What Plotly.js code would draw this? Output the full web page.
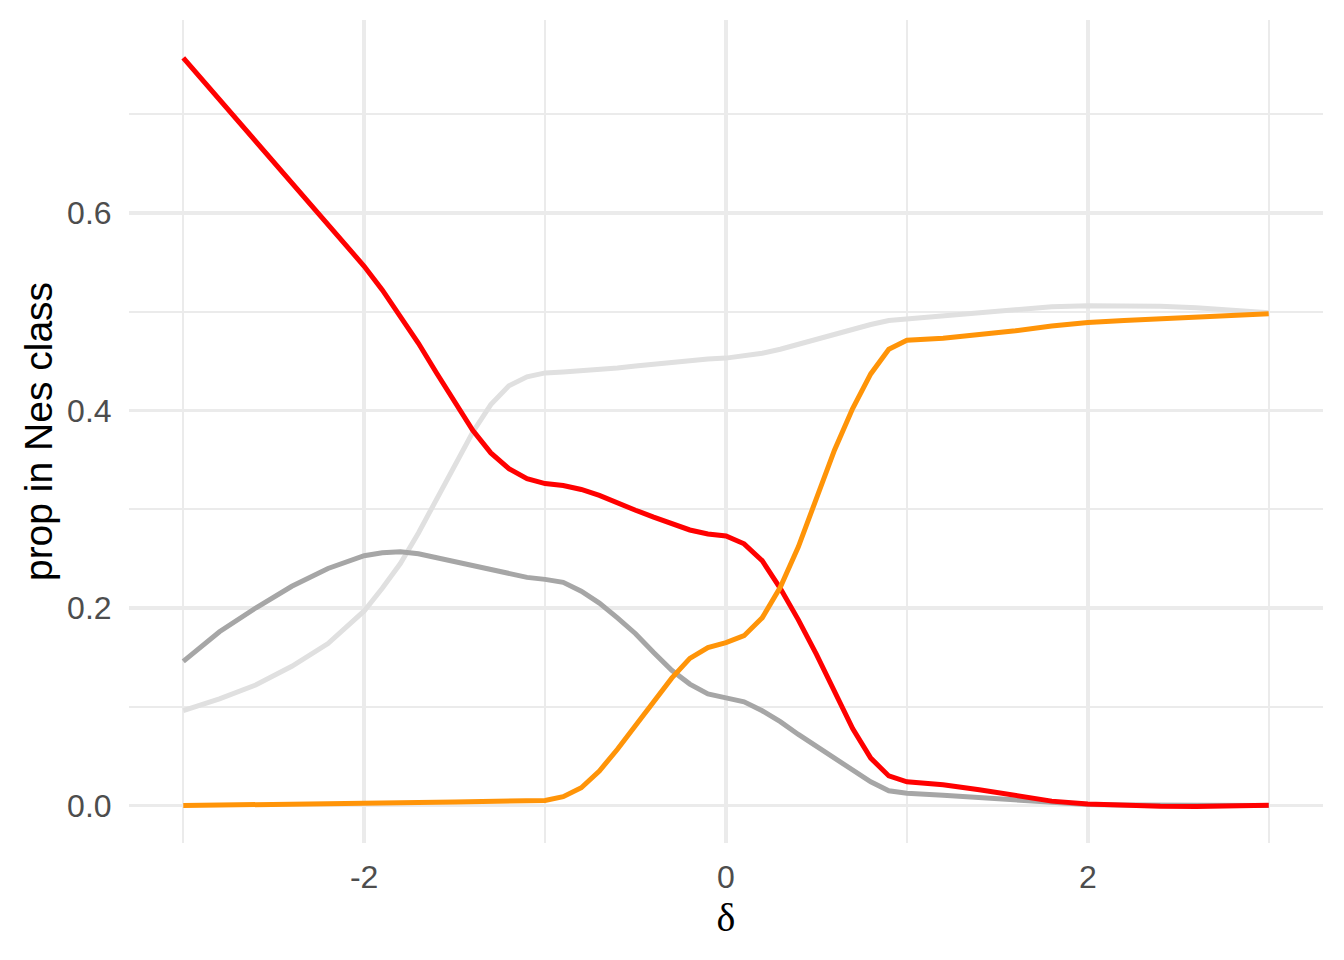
<!DOCTYPE html>
<html>
<head>
<meta charset="utf-8">
<script src="https://cdn.plot.ly/plotly-3.0.1.min.js"></script>
<style>html,body{margin:0;padding:0;background:#fff;}#chart{width:1344px;height:960px;}</style>
</head>
<body>
<div id="chart"></div>
<script>
const delta = [-3, -2.8, -2.6, -2.4, -2.2, -2, -1.9, -1.8, -1.7, -1.6, -1.5, -1.4, -1.3, -1.2, -1.1, -1, -0.9, -0.8, -0.7, -0.6, -0.5, -0.4, -0.3, -0.2, -0.1, 0, 0.1, 0.2, 0.3, 0.4, 0.5, 0.6, 0.7, 0.8, 0.9, 1, 1.2, 1.4, 1.6, 1.8, 2, 2.2, 2.4, 2.6, 2.8, 3];

const propRed = [0.757, 0.715, 0.673, 0.631, 0.589, 0.546, 0.522, 0.496, 0.468, 0.438, 0.408, 0.380, 0.357, 0.341, 0.331, 0.326, 0.324, 0.320, 0.314, 0.306, 0.299, 0.292, 0.285, 0.279, 0.275, 0.273, 0.265, 0.248, 0.220, 0.188, 0.153, 0.115, 0.078, 0.048, 0.030, 0.024, 0.021, 0.016, 0.010, 0.0045, 0.0015, 0.0, -0.0008, -0.001, -0.0006, 0.0003];

const propDarkGray = [0.146, 0.176, 0.200, 0.222, 0.240, 0.253, 0.256, 0.257, 0.255, 0.251, 0.247, 0.242, 0.238, 0.234, 0.231, 0.229, 0.226, 0.217, 0.205, 0.190, 0.174, 0.155, 0.137, 0.123, 0.113, 0.109, 0.105, 0.096, 0.085, 0.072, 0.060, 0.047, 0.035, 0.024, 0.015, 0.0125, 0.0105, 0.008, 0.005, 0.0025, 0.001, 0.0005, 0.0002, 0.0001, 0.0001, 0.0];

const propLightGray = [0.096, 0.108, 0.122, 0.141, 0.164, 0.197, 0.220, 0.245, 0.276, 0.310, 0.345, 0.378, 0.406, 0.425, 0.434, 0.438, 0.439, 0.440, 0.441, 0.443, 0.445, 0.447, 0.449, 0.451, 0.452, 0.453, 0.455, 0.458, 0.462, 0.467, 0.472, 0.478, 0.483, 0.487, 0.491, 0.4925, 0.495, 0.498, 0.502, 0.505, 0.506, 0.506, 0.5055, 0.504, 0.502, 0.499];

const propOrange = [0.0, 0.0003, 0.0006, 0.001, 0.0015, 0.002, 0.0023, 0.0026, 0.003, 0.0033, 0.0037, 0.004, 0.0043, 0.0046, 0.0049, 0.0052, 0.009, 0.018, 0.035, 0.057, 0.081, 0.105, 0.129, 0.149, 0.160, 0.165, 0.172, 0.190, 0.221, 0.262, 0.311, 0.360, 0.402, 0.437, 0.462, 0.471, 0.473, 0.4765, 0.4807, 0.4855, 0.489, 0.491, 0.493, 0.495, 0.4965, 0.498];

const xTicks = [-2, 0, 2];
const xTickText = ['-2', '0', '2'];
const xMinor = [-3, -1, 1, 3];
const yTicks = [0, 0.2, 0.4, 0.6];
const yTickText = ['0.0', '0.2', '0.4', '0.6'];
const yMinor = [0.1, 0.3, 0.5, 0.7];

const series = [
  {y: propLightGray, color: '#E0E0E0'},
  {y: propDarkGray, color: '#A6A6A6'},
  {y: propRed, color: '#FF0000'},
  {y: propOrange, color: '#FF9408'}
];

const traces = series.map(s => ({
  x: delta, y: s.y, type: 'scatter', mode: 'lines',
  line: {color: s.color, width: 5}, hoverinfo: 'skip'
}));

const tickFont = {family: 'Liberation Sans, Arial, sans-serif', size: 32, color: '#4D4D4D'};

const layout = {
  width: 1344, height: 960,
  paper_bgcolor: '#FFFFFF', plot_bgcolor: '#FFFFFF',
  showlegend: false,
  margin: {l: 129, r: 21, t: 20, b: 117, pad: 0},
  xaxis: {
    range: [-3.3, 3.3], tickmode: 'array', tickvals: xTicks, ticktext: xTickText,
    showgrid: true, gridcolor: '#EBEBEB', gridwidth: 3.8, zeroline: false, showline: false,
    ticks: 'outside', ticklen: 6, tickcolor: 'rgba(0,0,0,0)', tickfont: tickFont,
    minor: {tickmode: 'array', tickvals: xMinor, showgrid: true, gridcolor: '#EBEBEB', gridwidth: 1.9, ticks: ''},
    title: {text: 'δ', font: {family: 'Liberation Serif, DejaVu Serif, serif', size: 40, color: '#000000'}, standoff: 6}
  },
  yaxis: {
    range: [-0.0379, 0.7953], tickmode: 'array', tickvals: yTicks, ticktext: yTickText,
    showgrid: true, gridcolor: '#EBEBEB', gridwidth: 3.8, zeroline: false, showline: false,
    ticks: 'outside', ticklen: 10, tickcolor: 'rgba(0,0,0,0)', tickfont: tickFont,
    minor: {tickmode: 'array', tickvals: yMinor, showgrid: true, gridcolor: '#EBEBEB', gridwidth: 1.9, ticks: ''},
    title: {text: 'prop in Nes class', font: {family: 'Liberation Sans, Arial, sans-serif', size: 39, color: '#000000'}, standoff: 2}
  }
};

Plotly.newPlot('chart', traces, layout, {staticPlot: true, displayModeBar: false});
</script>
</body>
</html>
